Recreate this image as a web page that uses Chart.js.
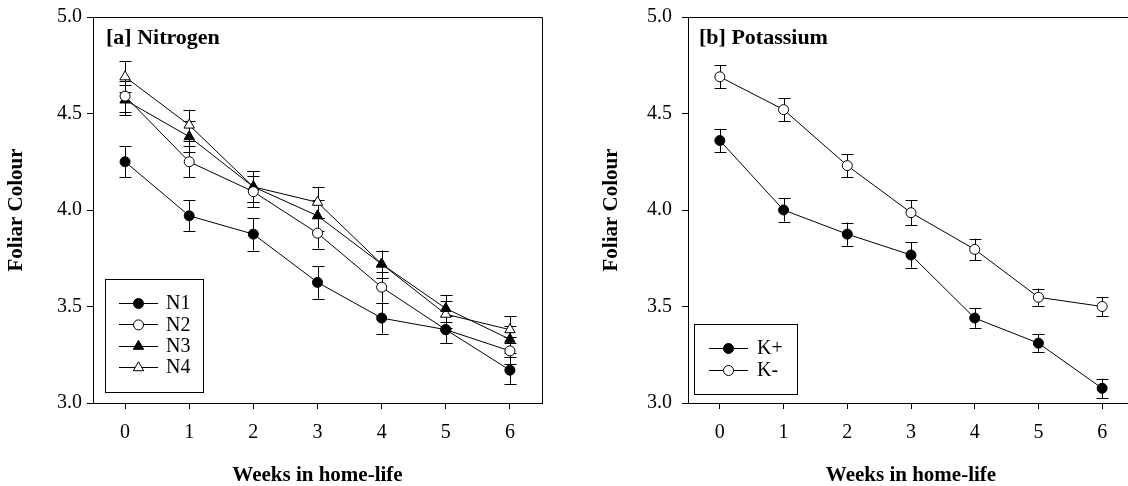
<!DOCTYPE html>
<html><head><meta charset="utf-8">
<script src="https://cdn.jsdelivr.net/npm/chart.js@4.4.0/dist/chart.umd.min.js"></script>
<style>
html,body{margin:0;padding:0;background:#fff;overflow:hidden;width:1128px;height:486px;position:relative;}
#c1{position:absolute;left:0;top:0;}
#c2{position:absolute;left:595px;top:0;}
</style></head><body>
<canvas id="c1" width="564" height="486"></canvas>
<canvas id="c2" width="561" height="486"></canvas>
<script>
// ---- data ----
const weeks = ['0','1','2','3','4','5','6'];
const yTicks = [3.0, 3.5, 4.0, 4.5, 5.0];

const n1 = [4.25, 3.97, 3.875, 3.625, 3.44, 3.38, 3.17];
const n2 = [4.59, 4.25, 4.095, 3.88, 3.60, 3.38, 3.27];
const n3 = [4.57, 4.38, 4.12, 3.97, 3.72, 3.49, 3.33];
const n4 = [4.69, 4.44, 4.12, 4.04, 3.72, 3.46, 3.38];
const n1Err = [0.08, 0.08, 0.085, 0.085, 0.08, 0.07, 0.07];
const n2Err = [0.08, 0.08, 0.08, 0.08, 0.08, 0.07, 0.07];
const n3Err = [0.08, 0.08, 0.08, 0.08, 0.07, 0.07, 0.07];
const n4Err = [0.08, 0.08, 0.08, 0.08, 0.07, 0.07, 0.07];

const kPlus  = [4.36, 4.00, 3.875, 3.767, 3.44, 3.31, 3.076];
const kMinus = [4.69, 4.52, 4.23, 3.986, 3.796, 3.548, 3.50];
const kPlusErr  = [0.06, 0.06, 0.06, 0.065, 0.05, 0.045, 0.05];
const kMinusErr = [0.06, 0.06, 0.06, 0.065, 0.055, 0.045, 0.05];

// ---- helpers ----
const SERIF = "'Liberation Serif', 'Times New Roman', serif";

function marker(ctx, style, filled, r, x, y) {
  ctx.save();
  ctx.beginPath();
  if (style === 'circle') {
    ctx.arc(x, y, r, 0, Math.PI * 2);
  } else {
    const a = Math.PI * 2 / 3;
    ctx.moveTo(x, y - r);
    ctx.lineTo(x + Math.sin(a) * r, y - Math.cos(a) * r);
    ctx.lineTo(x + Math.sin(2 * a) * r, y - Math.cos(2 * a) * r);
    ctx.closePath();
  }
  ctx.fillStyle = filled ? '#000' : '#fff';
  ctx.fill();
  ctx.lineWidth = 1;
  ctx.strokeStyle = '#000';
  ctx.stroke();
  ctx.restore();
}

const errorBars = {
  id: 'errorBars',
  beforeDatasetsDraw(chart) {
    const ctx = chart.ctx, ys = chart.scales.y;
    chart.data.datasets.forEach((ds, i) => {
      const meta = chart.getDatasetMeta(i);
      meta.data.forEach((pt, j) => {
        const v = ds.data[j], e = ds.errors[j];
        const yt = ys.getPixelForValue(v + e), yb = ys.getPixelForValue(v - e);
        const x = Math.round(pt.x) + 0.5;
        ctx.save();
        ctx.strokeStyle = '#000';
        ctx.lineWidth = 1;
        ctx.beginPath();
        ctx.moveTo(x, yt); ctx.lineTo(x, yb);
        ctx.moveTo(x - 6, Math.round(yt) + 0.5); ctx.lineTo(x + 6, Math.round(yt) + 0.5);
        ctx.moveTo(x - 6, Math.round(yb) + 0.5); ctx.lineTo(x + 6, Math.round(yb) + 0.5);
        ctx.stroke();
        ctx.restore();
      });
    });
  }
};

const panelDecor = {
  id: 'panelDecor',
  beforeDatasetsDraw(chart, args, opts) {
    const ctx = chart.ctx, a = chart.chartArea;
    ctx.save();
    ctx.strokeStyle = '#000';
    ctx.lineWidth = 1;
    ctx.beginPath();
    ctx.moveTo(a.left, Math.round(a.top) + 0.5);
    ctx.lineTo(Math.round(a.right) + 0.5, Math.round(a.top) + 0.5);
    ctx.lineTo(Math.round(a.right) + 0.5, a.bottom);
    ctx.stroke();
    ctx.restore();
  },
  afterDraw(chart, args, opts) {
    const ctx = chart.ctx;
    ctx.save();
    // panel title
    ctx.fillStyle = '#000';
    ctx.font = 'bold ' + opts.titleSize + 'px ' + SERIF;
    ctx.textBaseline = 'alphabetic';
    ctx.textAlign = 'left';
    ctx.fillText(opts.title, opts.titleX, opts.titleY);
    // legend box
    const b = opts.box;
    ctx.strokeStyle = '#000';
    ctx.lineWidth = 1;
    ctx.strokeRect(b.x + 0.5, b.y + 0.5, b.w, b.h);
    ctx.font = opts.legendSize + 'px ' + SERIF;
    ctx.textBaseline = 'middle';
    chart.data.datasets.forEach((ds, i) => {
      const y = b.rowY + i * b.rowGap;
      ctx.beginPath();
      ctx.moveTo(b.lineX1, Math.round(y) + 0.5);
      ctx.lineTo(b.lineX2, Math.round(y) + 0.5);
      ctx.stroke();
      marker(ctx, ds.pointStyle, ds.pointBackgroundColor === '#000', ds.pointRadius, (b.lineX1 + b.lineX2) / 2, y + 0.5);
      ctx.fillStyle = '#000';
      ctx.fillText(ds.label, b.textX, y + 1);
    });
    ctx.restore();
  }
};

function series(label, data, errors, style, filled) {
  return {
    label, data, errors,
    borderColor: '#000', borderWidth: 1,
    pointStyle: style,
    pointRadius: style === 'circle' ? 5 : 6,
    pointHoverRadius: style === 'circle' ? 5 : 6,
    pointBackgroundColor: filled ? '#000' : '#fff',
    pointBorderColor: '#000', pointBorderWidth: 1,
    tension: 0, fill: false
  };
}

function makeChart(id, datasets, decor, tickPad) {
  return new Chart(document.getElementById(id), {
    type: 'line',
    data: { labels: weeks, datasets },
    plugins: [errorBars, panelDecor],
    options: {
      responsive: false, animation: false, devicePixelRatio: 1,
      events: [],
      layout: { padding: { left: 0, top: 17, right: 22, bottom: 0 } },
      plugins: { legend: { display: false }, tooltip: { enabled: false }, panelDecor: decor },
      scales: {
        x: {
          type: 'category', offset: true,
          grid: { drawOnChartArea: false, offset: false, drawTicks: true, tickLength: 6, color: '#000', tickColor: '#000' },
          border: { color: '#000', width: 1 },
          ticks: { color: '#000', font: { family: SERIF, size: 20 }, padding: 12, maxRotation: 0 },
          title: { display: true, text: 'Weeks in home-life', color: '#000', font: { family: SERIF, size: 21, weight: 'bold', lineHeight: 1 }, padding: { top: 0, bottom: 0 } },
          afterFit(s) { s.height = 83; s.paddingLeft = 0; s.paddingRight = 0; }
        },
        y: {
          min: yTicks[0], max: yTicks[yTicks.length - 1],
          afterBuildTicks(s) { s.ticks = yTicks.map(v => ({ value: v })); },
          grid: { drawOnChartArea: false, drawTicks: true, tickLength: 6, color: '#000', tickColor: '#000' },
          border: { color: '#000', width: 1 },
          ticks: { color: '#000', font: { family: SERIF, size: 20 }, padding: tickPad, callback: v => Number(v).toFixed(1) },
          title: { display: true, text: 'Foliar Colour', color: '#000', font: { family: SERIF, size: 21, weight: 'bold', lineHeight: 1 }, padding: { top: 6, bottom: 0 } },
          afterFit(s) { s.width = 93; s.paddingTop = 0; s.paddingBottom = 0; }
        }
      }
    }
  });
}

makeChart('c1', [
  series('N1', n1, n1Err, 'circle', true),
  series('N2', n2, n2Err, 'circle', false),
  series('N3', n3, n3Err, 'triangle', true),
  series('N4', n4, n4Err, 'triangle', false)
], {
  title: '[a] Nitrogen', titleX: 106, titleY: 44, titleSize: 22, legendSize: 20,
  box: { x: 105, y: 279, w: 98, h: 113, rowY: 303, rowGap: 21.4, lineX1: 119, lineX2: 158, textX: 166 }
}, 5);

makeChart('c2', [
  series('K+', kPlus, kPlusErr, 'circle', true),
  series('K-', kMinus, kMinusErr, 'circle', false)
], {
  title: '[b] Potassium', titleX: 104, titleY: 44, titleSize: 22, legendSize: 20,
  box: { x: 99, y: 324, w: 103, h: 70, rowY: 348, rowGap: 22, lineX1: 114, lineX2: 153, textX: 162 }
}, 10);
</script>
</body></html>
